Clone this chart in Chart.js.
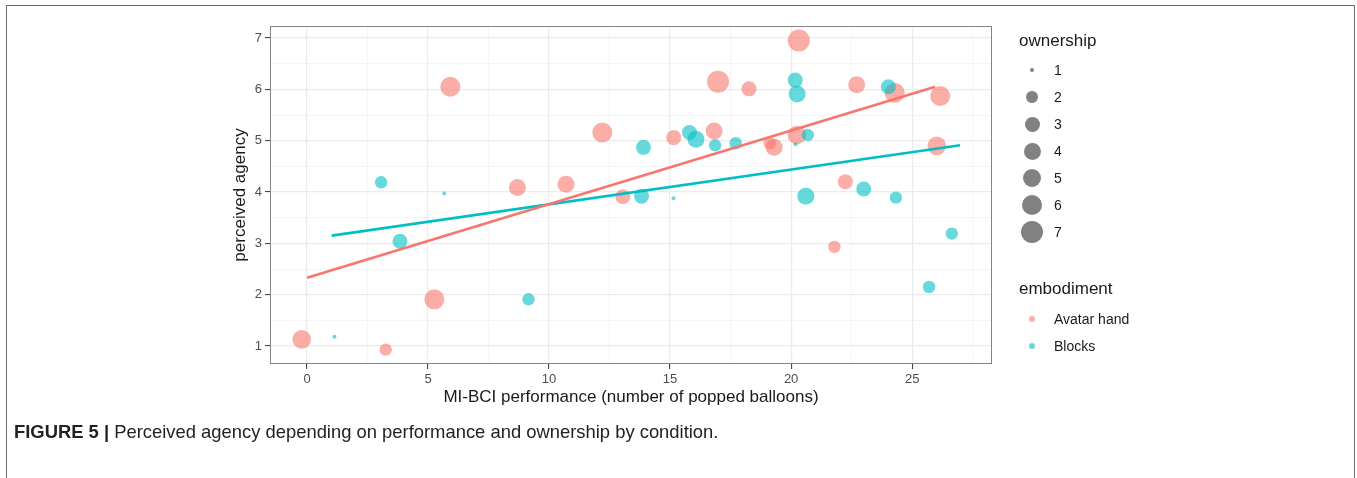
<!DOCTYPE html>
<html>
<head>
<meta charset="utf-8">
<script src="https://cdn.jsdelivr.net/npm/chart.js@4/dist/chart.umd.min.js"></script>
<style>
  body { margin: 0; background: #fff; font-family: "Liberation Sans", Arial, sans-serif; }
  #wrap { position: relative; width: 1357px; height: 478px; overflow: hidden; }
  #frame { position: absolute; left: 6px; top: 5px; width: 1347px; height: 600px; border: 1px solid #6e6e6e; }
  canvas { position: absolute; left: 0; top: 0; }
  .lg { position: absolute; color: #1a1a1a; white-space: nowrap; }
  .lgTitle { font-size: 17px; }
  .lgLab { font-size: 14px; }
  .dot { position: absolute; border-radius: 50%; }
  #caption { position: absolute; left: 14px; top: 421px; font-size: 18.4px; color: #222; white-space: nowrap; }
</style>
</head>
<body>
<div id="wrap">
  <div id="frame"></div>
  <canvas id="chart" width="1357" height="478"></canvas>
  <div id="legend"></div>
  <div id="caption"><b>FIGURE 5 |</b> Perceived agency depending on performance and ownership by condition.</div>
</div>
<script>
// Avatar hand
const handX = [-0.22, 3.25, 5.26, 5.92, 8.69, 10.70, 12.20, 13.05, 15.15, 16.82, 16.98, 18.26, 20.32, 19.12, 19.30, 20.24, 21.79, 22.24, 22.71, 24.28, 26.16, 26.02]
const handY = [1.13, 0.93, 1.91, 6.05, 4.09, 4.15, 5.16, 3.91, 5.06, 5.19, 6.15, 6.01, 6.95, 4.95, 4.87, 5.11, 2.93, 4.20, 6.09, 5.93, 5.87, 4.90]
const handOwn = [5, 2, 6, 6, 4, 4, 6, 3, 3, 4, 7, 3, 7, 2, 4, 5, 2, 3, 4, 6, 6, 5]

// Blocks
const blocksX = [1.13, 3.06, 3.84, 5.67, 9.15, 13.90, 13.82, 15.14, 15.80, 16.07, 16.86, 17.71, 20.17, 20.25, 20.69, 20.61, 23.00, 24.02, 24.33, 25.70, 26.64, 20.18]
const blocksY = [1.18, 4.19, 3.04, 3.97, 1.91, 4.87, 3.92, 3.88, 5.16, 5.03, 4.91, 4.95, 6.18, 5.91, 5.11, 3.92, 4.06, 6.05, 3.89, 2.15, 3.19, 4.93]
const blocksOwn = [1, 2, 3, 1, 2, 3, 3, 1, 3, 4, 2, 2, 3, 4, 2, 4, 3, 3, 2, 2, 2, 1]

// fitted lines (end points)
const handFitX = [0, 25.95]
const handFitY = [2.33, 6.05]
const blocksFitX = [1.02, 26.98]
const blocksFitY = [3.15, 4.91]

const ownershipLevels = [1, 2, 3, 4, 5, 6, 7]
const embodimentLabels = ["Avatar hand", "Blocks"]

// radius in px for each ownership level (size scale)
const radiusFor = [2, 6.2, 7.5, 8.5, 9.3, 10, 11]

const RED = "#F8766D"
const TEAL = "#00BFC4"
const RED_A = "rgba(248, 118, 109, 0.6)"
const TEAL_A = "rgba(0, 191, 196, 0.6)"

const bubbles = function(xs, ys, own){
    return xs.map((x, i) => ({x: x, y: ys[i], r: radiusFor[own[i] - 1]}))
}
const line = function(xs, ys){
    return xs.map((x, i) => ({x: x, y: ys[i]}))
}

const panelBorder = {
    id: "panelBorder",
    afterDraw(chart){
        const {ctx, chartArea: a} = chart
        ctx.save()
        ctx.strokeStyle = "#858585"
        ctx.lineWidth = 1
        ctx.strokeRect(a.left + 0.5, a.top + 0.5, a.right - a.left - 1, a.bottom - a.top - 1)
        ctx.restore()
    }
}

const font = "'Liberation Sans', Arial, sans-serif"
const isMajorX = v => Math.abs(v % 5) < 1e-9
const isMajorY = v => Math.abs(v - Math.round(v)) < 1e-9

const config = {
    type: "bubble",
    data: {
        datasets: [
            {label: "Avatar hand fit", type: "line", data: line(handFitX, handFitY), borderColor: RED, borderWidth: 2.6, pointRadius: 0, order: 0},
            {label: "Blocks fit", type: "line", data: line(blocksFitX, blocksFitY), borderColor: TEAL, borderWidth: 2.6, pointRadius: 0, order: 0},
            {label: "Blocks", data: bubbles(blocksX, blocksY, blocksOwn), backgroundColor: TEAL_A, borderWidth: 0, order: 1},
            {label: "Avatar hand", data: bubbles(handX, handY, handOwn), backgroundColor: RED_A, borderWidth: 0, order: 2}
        ]
    },
    options: {
        responsive: false,
        animation: false,
        devicePixelRatio: 1,
        layout: {padding: {left: 230, right: 365, top: 26, bottom: 70}},
        plugins: {legend: {display: false}, tooltip: {enabled: false}},
        scales: {
            x: {
                type: "linear",
                min: -1.53,
                max: 28.3,
                afterFit: s => { s.height = 44 },
                ticks: {
                    stepSize: 2.5, includeBounds: false, autoSkip: false, maxRotation: 0,
                    padding: 3, color: "#4D4D4D", font: {family: font, size: 13},
                    callback: v => isMajorX(v) ? v : ""
                },
                grid: {
                    color: c => isMajorX(c.tick.value) ? "#EBEBEB" : "#F3F3F3",
                    lineWidth: c => isMajorX(c.tick.value) ? 1.2 : 0.8,
                    tickColor: c => isMajorX(c.tick.value) ? "#333" : "rgba(0,0,0,0)",
                    tickLength: 5, tickWidth: 1
                },
                border: {display: false},
                title: {display: true, text: "MI-BCI performance (number of popped balloons)", color: "#1a1a1a", font: {family: font, size: 17}, padding: 0}
            },
            y: {
                min: 0.65,
                max: 7.234,
                afterFit: s => { s.width = 40 },
                ticks: {
                    stepSize: 0.5, includeBounds: false, autoSkip: false,
                    padding: 3, color: "#4D4D4D", font: {family: font, size: 13},
                    callback: v => isMajorY(v) ? v : ""
                },
                grid: {
                    color: c => isMajorY(c.tick.value) ? "#EBEBEB" : "#F3F3F3",
                    lineWidth: c => isMajorY(c.tick.value) ? 1.2 : 0.8,
                    tickColor: c => isMajorY(c.tick.value) ? "#333" : "rgba(0,0,0,0)",
                    tickLength: 5, tickWidth: 1
                },
                border: {display: false},
                title: {display: true, text: "perceived agency", color: "#1a1a1a", font: {family: font, size: 17}, padding: 0}
            }
        }
    },
    plugins: [panelBorder]
}

const myChart = new Chart(document.querySelector("#chart"), config)

// legends (html)
const legend = document.querySelector("#legend")
const addText = function(cls, text, left, midY, size){
    const d = document.createElement("div")
    d.className = "lg " + cls
    d.textContent = text
    d.style.left = left + "px"
    d.style.top = (midY - size * 0.6) + "px"
    d.style.lineHeight = (size * 1.2) + "px"
    legend.appendChild(d)
}
const addDot = function(cx, cy, r, color){
    const d = document.createElement("div")
    d.className = "dot"
    d.style.left = (cx - r) + "px"
    d.style.top = (cy - r) + "px"
    d.style.width = (2 * r) + "px"
    d.style.height = (2 * r) + "px"
    d.style.background = color
    legend.appendChild(d)
}

addText("lgTitle", "ownership", 1019, 41, 17)
ownershipLevels.forEach((lvl, i) => {
    const cy = 70 + i * 27
    addDot(1032, cy, radiusFor[lvl - 1], "rgba(51, 51, 51, 0.62)")
    addText("lgLab", String(lvl), 1054, cy, 14)
})
addText("lgTitle", "embodiment", 1019, 289, 17)
const embColors = [RED_A, TEAL_A]
embodimentLabels.forEach((lab, i) => {
    const cy = 319 + i * 27
    addDot(1032, cy, 3.3, embColors[i])
    addText("lgLab", lab, 1054, cy, 14)
})
</script>
</body>
</html>
